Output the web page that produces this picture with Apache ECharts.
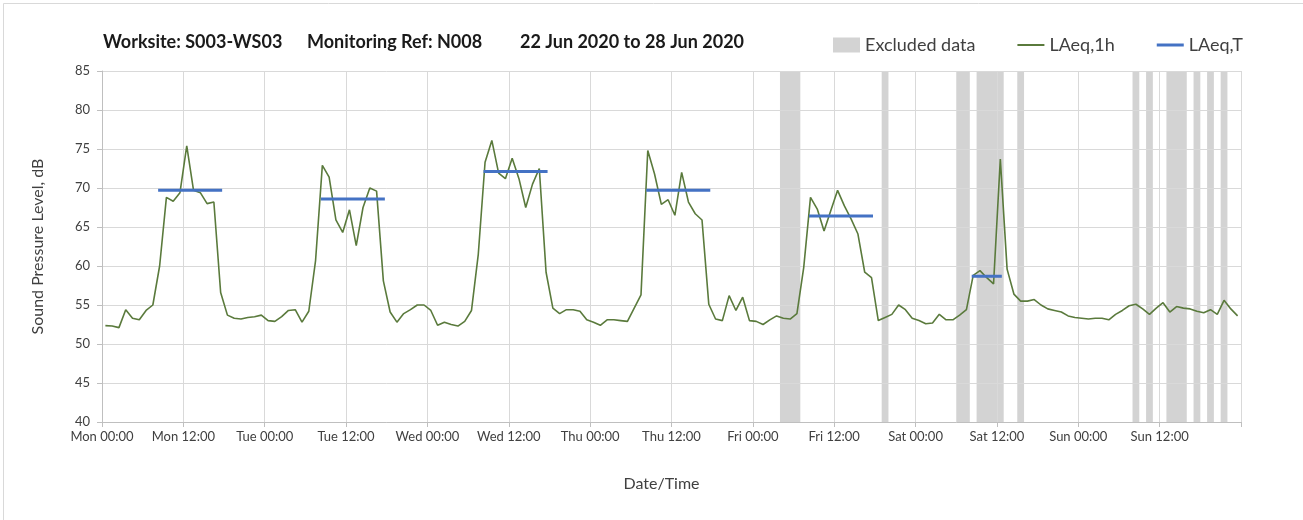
<!DOCTYPE html>
<html>
<head>
<meta charset="utf-8">
<script src="https://cdn.jsdelivr.net/npm/echarts@6/dist/echarts.min.js"></script>
<style>
html,body{margin:0;padding:0;background:#fff;}
#chart{width:1303px;height:520px;}
</style>
</head>
<body>
<div id="chart"></div>
<script>
// Hourly LAeq,1h values, Mon 00:00 .. Sun 23:00 (plotted at the middle of each hour)
const laeq1h = [
  52.35,52.3,52.1,54.4,53.3,53.1,54.3,55.0,60.0,68.8,68.3,69.4,75.4,69.7,69.4,68.0,68.2,56.6,53.7,53.3,53.2,53.4,53.5,53.7,
  53.0,52.9,53.5,54.3,54.4,52.8,54.2,60.7,72.9,71.4,65.9,64.3,67.2,62.6,67.5,70.0,69.6,58.1,54.1,52.8,53.9,54.4,55.0,55.0,
  54.3,52.4,52.8,52.5,52.3,52.9,54.3,61.5,73.3,76.1,71.9,71.2,73.8,71.2,67.5,70.5,72.5,59.2,54.6,53.9,54.4,54.4,54.2,53.1,
  52.8,52.4,53.1,53.1,53.0,52.9,54.6,56.3,74.8,71.8,67.9,68.5,66.5,72.0,68.2,66.7,65.9,55.1,53.2,53.0,56.2,54.3,56.0,53.0,
  52.9,52.5,53.1,53.6,53.3,53.2,53.9,59.8,68.8,67.3,64.5,67.1,69.7,67.7,66.0,64.1,59.2,58.5,53.0,53.4,53.8,55.0,54.4,53.3,
  53.0,52.6,52.7,53.8,53.1,53.1,53.7,54.4,58.8,59.4,58.5,57.7,73.7,59.6,56.4,55.5,55.5,55.7,55.0,54.5,54.3,54.1,53.6,53.4,
  53.3,53.2,53.3,53.3,53.1,53.8,54.3,54.9,55.1,54.5,53.8,54.6,55.3,54.1,54.8,54.6,54.5,54.2,54.0,54.4,53.8,55.6,54.5,53.6
];
// LAeq,T daytime periods (hours from Mon 00:00)
const tStart = [8.5, 32.5, 56.5, 80.5, 104.5, 128.5];
const tEnd   = [17.5, 41.5, 65.5, 89.5, 113.5, 132.5];
const tValue = [69.7, 68.6, 72.1, 69.7, 66.4, 58.7];
// Excluded data periods (hours from Mon 00:00)
const exStart = [100, 115, 126, 129, 135, 152, 154, 157, 161, 163, 165];
const exEnd   = [103, 116, 128, 133, 136, 153, 155, 160, 162, 164, 166];
// X tick labels every 12 hours
const xTickLabels = ['Mon 00:00','Mon 12:00','Tue 00:00','Tue 12:00','Wed 00:00','Wed 12:00','Thu 00:00','Thu 12:00',
  'Fri 00:00','Fri 12:00','Sat 00:00','Sat 12:00','Sun 00:00','Sun 12:00'];
const titleParts = ['Worksite: S003-WS03', 'Monitoring Ref: N008', '22 Jun 2020 to 28 Jun 2020'];

const FONT = 'Lato, "Open Sans", sans-serif';
const lineData = laeq1h.map((v, i) => [i + 0.5, v]);
const tData = [];
tStart.forEach((s, k) => {
  if (k > 0) tData.push([tEnd[k - 1], '-']);
  tData.push([s, tValue[k]]);
  tData.push([tEnd[k], tValue[k]]);
});
const exData = exStart.map((s, k) => [s, exEnd[k]]);

const chart = echarts.init(document.getElementById('chart'), null, {renderer: 'canvas'});
chart.setOption({
  animation: false,
  backgroundColor: '#ffffff',
  textStyle: {fontFamily: FONT},
  graphic: [
    {type: 'rect', left: 1, top: 1, shape: {width: 1300, height: 517}, style: {fill: 'none', stroke: '#d9d9d9', lineWidth: 1}, z: -10},
    {type: 'text', left: 103, top: 33, style: {text: titleParts[0], font: 'bold 18px ' + FONT, fill: '#1a1a1a'}},
    {type: 'text', left: 307, top: 33, style: {text: titleParts[1], font: 'bold 18px ' + FONT, fill: '#1a1a1a'}},
    {type: 'text', left: 520, top: 33, style: {text: titleParts[2], font: 'bold 18px ' + FONT, fill: '#1a1a1a'}}
  ],
  legend: {
    left: 828, top: 31,
    itemWidth: 27, itemHeight: 15, itemGap: 42,
    textStyle: {fontSize: 18, color: '#404040', fontFamily: FONT},
    data: [
      {name: 'Excluded data', icon: 'rect'},
      {name: 'LAeq,1h', icon: 'path://M0,0h27v2h-27z'},
      {name: 'LAeq,T', icon: 'path://M0,0h27v3h-27z'}
    ]
  },
  grid: {left: 102, right: 62, top: 71, bottom: 98, containLabel: false},
  xAxis: {
    type: 'value', min: 0, max: 168, interval: 12,
    name: 'Date/Time', nameLocation: 'middle', nameGap: 54,
    nameTextStyle: {fontSize: 16, color: '#404040', fontFamily: FONT, padding: [0, 20, 0, 0]},
    axisLine: {show: true, lineStyle: {color: '#bfbfbf', width: 1}},
    axisTick: {show: true, length: 5, lineStyle: {color: '#bfbfbf'}},
    axisLabel: {
      fontSize: 13, color: '#404040', margin: 8, fontFamily: FONT,
      formatter: v => xTickLabels[Math.round(v / 12)] || ''
    },
    splitLine: {show: true, lineStyle: {color: '#d9d9d9', width: 1}}
  },
  yAxis: {
    type: 'value', min: 40, max: 85, interval: 5,
    name: 'Sound Pressure Level, dB', nameLocation: 'middle', nameGap: 56,
    nameTextStyle: {fontSize: 16, color: '#404040', fontFamily: FONT},
    axisLine: {show: true, lineStyle: {color: '#bfbfbf', width: 1}},
    axisTick: {show: true, length: 5, lineStyle: {color: '#bfbfbf'}},
    axisLabel: {fontSize: 13, color: '#404040', margin: 12, fontFamily: FONT},
    splitLine: {show: true, lineStyle: {color: '#d9d9d9', width: 1}}
  },
  series: [
    {
      name: 'Excluded data', type: 'custom', z: -1,
      color: '#d3d3d3',
      encode: {x: [0, 1]},
      data: exData,
      renderItem: function (params, api) {
        const cs = params.coordSys;
        const a = api.coord([api.value(0), 85]);
        const b = api.coord([api.value(1), 40]);
        return {
          type: 'rect',
          shape: {x: a[0], y: cs.y, width: b[0] - a[0], height: cs.height},
          style: {fill: '#d3d3d3'}
        };
      }
    },
    {
      name: 'LAeq,1h', type: 'line', data: lineData,
      symbol: 'none', color: '#5a7a3c',
      lineStyle: {color: '#5a7a3c', width: 1.6}, z: 3
    },
    {
      name: 'LAeq,T', type: 'line', data: tData,
      symbol: 'none', color: '#4472c4', connectNulls: false,
      lineStyle: {color: '#4472c4', width: 3, cap: 'square'}, z: 4
    }
  ]
});
</script>
</body>
</html>
